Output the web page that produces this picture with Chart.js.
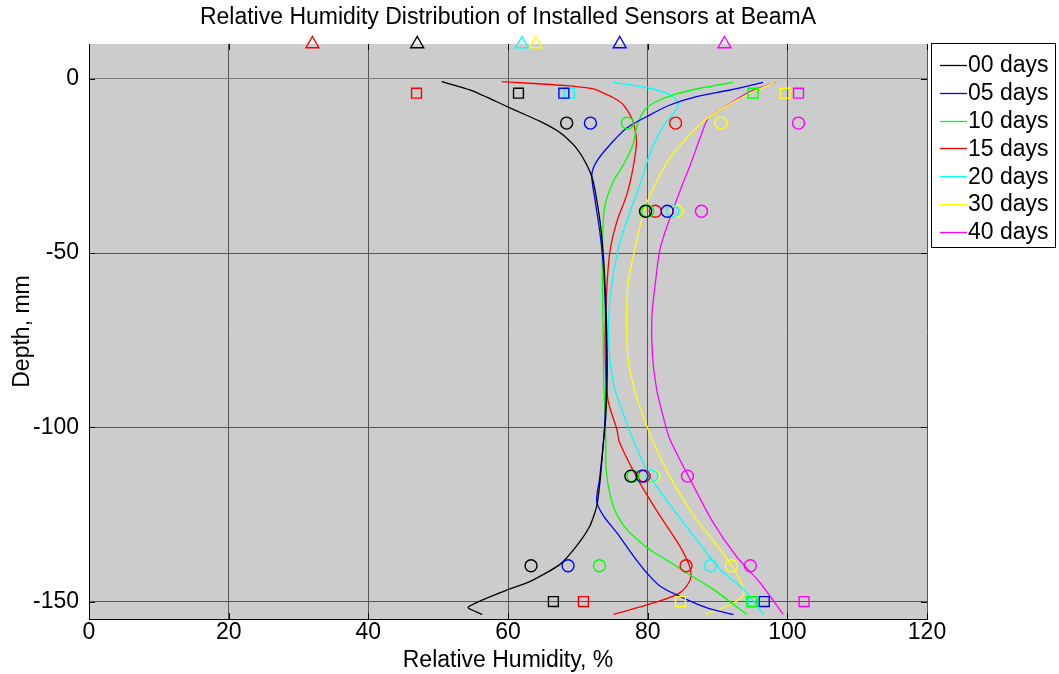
<!DOCTYPE html>
<html><head><meta charset="utf-8">
<script src="https://cdn.jsdelivr.net/npm/chart.js@4/dist/chart.umd.min.js"></script>
<style>html,body{margin:0;padding:0;background:#fff;overflow:hidden}</style>
</head><body>
<canvas id="c" width="1059" height="674" style="width:1059px;height:674px;display:block"></canvas>
<script>
// ---------- data ----------
const chartTitle = 'Relative Humidity Distribution of Installed Sensors at BeamA';
const xLabel = 'Relative Humidity, %';
const yLabel = 'Depth, mm';
const xTicks = [0, 20, 40, 60, 80, 100, 120];
const yTicks = [0, -50, -100, -150];
const seriesLabels = ['00 days', '05 days', '10 days', '15 days', '20 days', '30 days', '40 days'];

// continuous profiles: [RH %, depth mm]
const curve00 = [[50.5,-0.8],[55,-3.5],[59.8,-7.9],[62.5,-10.3],[64.6,-12.2],[66.5,-14.2],[67.9,-16.1],[69.8,-19.9],[71.3,-24.7],[72.2,-29.4],[72.9,-37.1],[73.4,-44.7],[73.8,-55],[74.1,-70],[74.2,-85],[74.0,-97],[73.7,-103.5],[73.2,-115],[72.7,-122.7],[71.7,-128.4],[69.8,-134.1],[67.4,-139.4],[63.2,-144.2],[59.8,-146.7],[54.3,-151.6],[56.3,-153.7]];
const curve05 = [[96.5,-1.0],[91.8,-3.2],[87.0,-5.1],[83.2,-7.5],[79.9,-10.8],[77.0,-14.1],[74.6,-18.9],[72.7,-23.7],[72.0,-27.5],[72.5,-35.2],[73.2,-44.7],[73.7,-55],[74.0,-70],[74.1,-85],[73.9,-97],[73.7,-103.5],[73.1,-115],[72.7,-121.2],[73.7,-125.5],[75.6,-130.3],[78.0,-137],[79.9,-141.8],[81.8,-145.6],[84.6,-148.5],[88.5,-151.8],[92.3,-153.7]];
const curve10 = [[92.2,-1.0],[87.5,-2.7],[83.7,-4.6],[80.8,-7.0],[79.4,-9.4],[78.4,-14.1],[77.9,-18.9],[76.5,-24.7],[75.1,-29.4],[73.9,-36.1],[73.6,-42.8],[73.5,-55],[73.6,-70],[73.7,-85],[73.9,-97],[74.0,-103.5],[74.1,-113.1],[75.1,-122.7],[77.0,-129.3],[80.3,-135.1],[82.5,-137.8],[85.6,-141.8],[89.4,-146.5],[94.2,-153.7]];
const curve15 = [[59.1,-0.8],[67.9,-1.9],[72.2,-2.9],[73.7,-4.1],[74.8,-5.1],[76.3,-7.0],[77.2,-9.4],[77.9,-12.2],[78.4,-18.0],[77.9,-25.6],[77.0,-33.3],[75.6,-40.9],[74.6,-49.5],[74.1,-62],[73.9,-77.7],[74.3,-92],[75.6,-100.7],[76.0,-104.5],[78.9,-116],[81.8,-125.5],[84.6,-134.1],[86.0,-139.9],[86.1,-143.7],[84.6,-147.5],[80.8,-150.4],[76.0,-153.2],[75.1,-153.7]];
const curve20 = [[75.1,-1.0],[80.3,-2.7],[83.2,-4.6],[84.4,-7.0],[83.9,-9.4],[82.7,-12.2],[81.3,-17.0],[80.1,-22.7],[78.9,-30.4],[77.5,-38.0],[75.8,-48.6],[74.6,-63.4],[74.4,-72.9],[74.6,-80.6],[75.3,-89.2],[77.0,-98.7],[77.9,-103.5],[80.3,-114],[83.7,-123.6],[87.0,-132.2],[90.4,-140.8],[93.7,-146.5],[96.6,-153.7]];
const curve30 = [[98.2,-1.0],[94.2,-4.6],[90.8,-8.4],[88.0,-12.2],[85.6,-17.0],[83.2,-22.7],[81.3,-29.4],[79.6,-37.1],[78.2,-48.6],[77.2,-58.6],[77.0,-68.2],[77.2,-80.6],[78.4,-91.1],[79.9,-99.7],[80.6,-103.5],[83.7,-116],[87.0,-126.5],[90.4,-135.1],[92.7,-141.8],[93.8,-147.5],[92.3,-150.4],[88.2,-153.7]];
const curve40 = [[98.3,-1.0],[94.7,-3.6],[90.8,-8.4],[88.7,-11.3],[87.5,-17.0],[86.1,-24.7],[84.6,-32.3],[83.2,-39.9],[81.8,-48.6],[81.1,-58.6],[80.6,-68.2],[80.7,-79.6],[81.3,-89.2],[82.2,-96.8],[83.2,-103.5],[86.1,-115],[89.4,-127.4],[92.7,-137],[96.1,-144.6],[99.4,-153.7]];
const curves = [curve00, curve05, curve10, curve15, curve20, curve30, curve40];

// sensor readings (markers)
const triangleDepth = 10;
const triangleRH = [47, 76, null, 32, 62, 64, 91];
const squareDepths = [-4.1, -150];
const squareRH = [[61.5, 66.5], [68.0, 96.7], [95.1, 94.9], [46.9, 70.8], [68.8, 95.2], [99.7, 84.7], [101.6, 102.4]];
const circleDepths = [-12.7, -38.0, -114.0, -139.7];
const circleRH = [
  [68.4, 79.7, 77.6, 63.3],
  [71.8, 82.8, 79.2, 68.6],
  [77.1, 80.0, 77.9, 73.1],
  [84.0, 81.1, 79.5, 85.5],
  [null, 83.6, 80.6, 89.0],
  [90.5, 84.2, 80.9, 92.0],
  [101.6, 87.7, 85.7, 94.7]
];

// ---------- styles ----------
const colors = ['#000000', '#0000ff', '#00ff00', '#ff0000', '#00ffff', '#ffff00', '#ff00ff'];
const FONT = '"Liberation Sans", Arial, Helvetica, sans-serif';
const FS = 23;

const datasets = [];
seriesLabels.forEach((lab, i) => {
  datasets.push({
    label: lab, isCurve: true,
    data: curves[i].map(p => ({x: p[0], y: p[1]})),
    showLine: true, borderColor: colors[i], borderWidth: 1.3,
    pointRadius: 0, tension: i === 0 ? 0.2 : 0.3, fill: false, order: 2
  });
});
seriesLabels.forEach((lab, i) => {
  const circ = [];
  circleDepths.forEach((d, k) => { if (circleRH[i][k] !== null) circ.push({x: circleRH[i][k], y: d}); });
  datasets.push({label: lab + ' circ', data: circ, showLine: false, pointStyle: 'circle',
    pointRadius: 6, pointBorderWidth: 1.4, borderColor: colors[i], pointBorderColor: colors[i],
    pointBackgroundColor: 'rgba(0,0,0,0)', order: 1});
  const sq = squareDepths.map((d, k) => ({x: squareRH[i][k], y: d}));
  datasets.push({label: lab + ' sq', data: sq, showLine: false, pointStyle: 'rect',
    pointRadius: 7, pointBorderWidth: 1.4, borderColor: colors[i], pointBorderColor: colors[i],
    pointBackgroundColor: 'rgba(0,0,0,0)', order: 1});
  if (triangleRH[i] !== null) {
    datasets.push({label: lab + ' tri', data: [{x: triangleRH[i], y: triangleDepth}], showLine: false,
      pointStyle: 'triangle', pointRadius: 7.5, pointBorderWidth: 1.4, borderColor: colors[i],
      pointBorderColor: colors[i], pointBackgroundColor: 'rgba(0,0,0,0)', clip: false, order: 1});
  }
});

const decor = {
  id: 'decor',
  beforeDraw(chart) {
    const {ctx, chartArea: a} = chart;
    ctx.save();
    ctx.fillStyle = '#ffffff';
    ctx.fillRect(0, 0, chart.width, chart.height);
    ctx.fillStyle = '#cccccc';
    ctx.fillRect(a.left, a.top, a.right - a.left, a.bottom - a.top);
    ctx.restore();
  },
  afterDraw(chart) {
    const {ctx, chartArea: a} = chart;
    const xs = chart.scales.x, ys = chart.scales.y;
    ctx.save();
    // title
    ctx.fillStyle = '#000';
    ctx.font = FS + 'px ' + FONT;
    ctx.textAlign = 'center';
    ctx.textBaseline = 'middle';
    ctx.fillText(chartTitle, (a.left + a.right) / 2, 18);
    // inward tick marks
    ctx.strokeStyle = '#000';
    ctx.lineWidth = 1;
    ctx.beginPath();
    xTicks.forEach(v => {
      const px = Math.round(xs.getPixelForValue(v)) + 0.5;
      ctx.moveTo(px, a.top); ctx.lineTo(px, a.top + 6);
      ctx.moveTo(px, a.bottom); ctx.lineTo(px, a.bottom - 6);
    });
    yTicks.forEach(v => {
      const py = Math.round(ys.getPixelForValue(v)) + 0.5;
      ctx.moveTo(a.left, py); ctx.lineTo(a.left + 6, py);
      ctx.moveTo(a.right, py); ctx.lineTo(a.right - 6, py);
    });
    ctx.stroke();
    // legend
    const bx = 931.5, by = 43.5, bw = 124, bh = 204;
    ctx.fillStyle = '#fff';
    ctx.fillRect(bx, by, bw, bh);
    ctx.strokeStyle = '#000';
    ctx.strokeRect(bx, by, bw, bh);
    ctx.textAlign = 'left';
    ctx.textBaseline = 'middle';
    ctx.font = FS + 'px ' + FONT;
    chart.data.datasets.filter(d => d.isCurve).forEach((d, i) => {
      const cy = 65 + i * 27.8;
      ctx.strokeStyle = d.borderColor;
      ctx.lineWidth = 1.3;
      ctx.beginPath();
      ctx.moveTo(940, Math.round(cy) + 0.5); ctx.lineTo(967, Math.round(cy) + 0.5);
      ctx.stroke();
      ctx.fillStyle = '#000';
      ctx.fillText(d.label, 968, cy + 1);
    });
    ctx.restore();
  }
};

new Chart(document.getElementById('c'), {
  type: 'scatter',
  data: {datasets},
  options: {
    responsive: false, animation: false, devicePixelRatio: 1,
    layout: {padding: {top: 44, right: 132, left: 0, bottom: 0}},
    plugins: {legend: {display: false}, title: {display: false}, tooltip: {enabled: false}},
    scales: {
      x: {
        type: 'linear', min: 0, max: 120,
        afterFit(s) { s.height = 55; },
        afterBuildTicks(s) { s.ticks = xTicks.map(v => ({value: v})); },
        ticks: {font: {family: FONT, size: FS}, color: '#000', padding: 0},
        grid: {color: '#555', lineWidth: 1, drawTicks: false},
        border: {color: '#000', width: 1},
        title: {display: true, text: xLabel, font: {family: FONT, size: FS}, color: '#000', padding: {top: 0, bottom: 0}}
      },
      y: {
        type: 'linear', min: -155, max: 10,
        afterFit(s) { s.width = 89; },
        afterBuildTicks(s) { s.ticks = yTicks.map(v => ({value: v})); },
        ticks: {font: {family: FONT, size: FS}, color: '#000', padding: 10},
        grid: {color: ctx => (ctx.tick && ctx.tick.value === 0) ? '#7a7a7a' : '#555', lineWidth: 1, drawTicks: false},
        border: {color: '#000', width: 1},
        title: {display: true, text: yLabel, font: {family: FONT, size: FS}, color: '#000', padding: {top: 9, bottom: 0}}
      }
    }
  },
  plugins: [decor]
});
</script>
</body></html>
